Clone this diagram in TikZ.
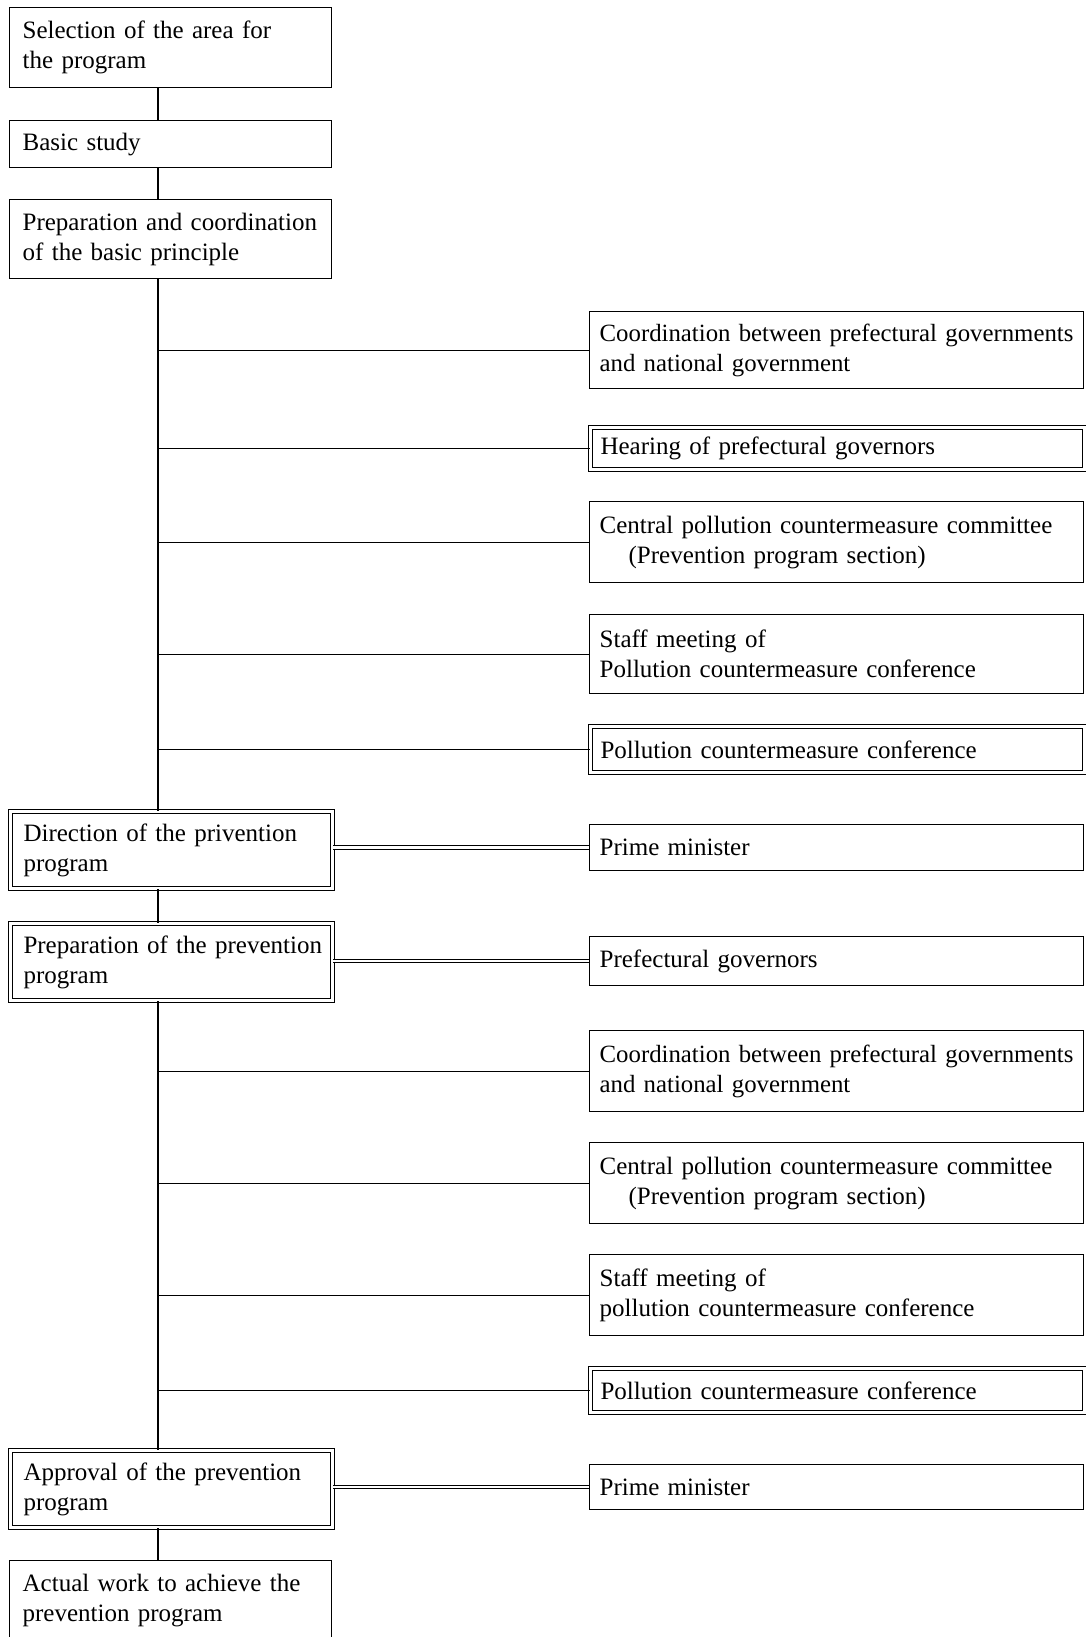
\documentclass[tikz,border=0pt]{standalone}
\usepackage{fontspec}
\setmainfont{Liberation Serif}
\hyphenpenalty=10000
\exhyphenpenalty=10000
\hbadness=10000
\hfuzz=20pt
\begin{document}
\begin{tikzpicture}[x=1pt,y=-1pt,
  lbox/.style={draw,line width=1.3pt,anchor=north west,inner xsep=13pt,inner ysep=0pt,
     minimum width=322pt,text width=296pt,align=left,
     font=\fontsize{25}{30}\selectfont},
  rbox/.style={draw,line width=1.3pt,anchor=north west,inner xsep=10pt,inner ysep=0pt,
     minimum width=494pt,text width=474pt,align=left,
     font=\fontsize{25}{30}\selectfont},
  nfont/.style={font=\fontsize{24.8}{30}\selectfont},
  dbl/.style={double,line width=1pt,double distance=2.5pt},
  conn/.style={line width=1.3pt},
  dconn/.style={double,line width=1pt,double distance=2.5pt},
  spine/.style={line width=2.2pt}]
\useasboundingbox (0,0) rectangle (1085,1637);
\coordinate (sp) at (158,0);
% left column
\node[lbox,minimum height=80pt] (sel) at (9,7) {Selection of the area for\\the program};
\node[lbox,minimum height=47pt] (basic) at (9,120) {Basic study};
\node[lbox,minimum height=79pt] (prepc) at (9,199) {Preparation and coordination\\of the basic principle};
\node[lbox,dbl,minimum height=77pt] (dir) at (10,811) {Direction of the privention\\program};
\node[lbox,dbl,minimum height=77pt] (prep) at (10,923) {\mbox{Preparation of the prevention}\\program};
\node[lbox,dbl,minimum height=77pt] (appr) at (10,1450) {Approval of the prevention\\program};
\node[lbox,minimum height=80pt] (act) at (9,1560) {Actual work to achieve the\\prevention program};
% right column
\node[rbox,nfont,minimum height=77pt] (c1) at (589,311) {\mbox{Coordination between prefectural governments}\\and national government};
\node[rbox,dbl,minimum height=42pt] (hear) at (590,427) {Hearing of prefectural governors};
\node[rbox,minimum height=81pt] (cent1) at (589,501) {Central pollution countermeasure committee\\\hspace*{29pt}(Prevention program section)};
\node[rbox,minimum height=79pt] (staff1) at (589,614) {Staff meeting of\\Pollution countermeasure conference};
\node[rbox,dbl,minimum height=46pt] (poll1) at (590,726) {Pollution countermeasure conference};
\node[rbox,minimum height=46pt] (pm1) at (589,824) {Prime minister};
\node[rbox,minimum height=49pt] (gov) at (589,936) {Prefectural governors};
\node[rbox,nfont,minimum height=81pt] (c2) at (589,1030) {\mbox{Coordination between prefectural governments}\\and national government};
\node[rbox,minimum height=81pt] (cent2) at (589,1142) {Central pollution countermeasure committee\\\hspace*{29pt}(Prevention program section)};
\node[rbox,minimum height=81pt] (staff2) at (589,1254) {Staff meeting of\\pollution countermeasure conference};
\node[rbox,dbl,minimum height=44pt] (poll2) at (590,1368) {Pollution countermeasure conference};
\node[rbox,minimum height=45pt] (pm2) at (589,1464) {Prime minister};
% spine
\draw[spine] (sel.south -| sp) -- (basic.north -| sp);
\draw[spine] (basic.south -| sp) -- (prepc.north -| sp);
\draw[spine] (prepc.south -| sp) -- (dir.north -| sp);
\draw[spine] (dir.south -| sp) -- (prep.north -| sp);
\draw[spine] (prep.south -| sp) -- (appr.north -| sp);
\draw[spine] (appr.south -| sp) -- (act.north -| sp);
% branches
\foreach \b in {c1,hear,cent1,staff1,poll1,c2,cent2,staff2,poll2}
  \draw[conn] (\b.west -| sp) -- (\b.west);
\draw[dconn] (pm1.west -| dir.east) -- (pm1.west);
\draw[dconn] (gov.west -| prep.east) -- (gov.west);
\draw[dconn] (pm2.west -| appr.east) -- (pm2.west);
\end{tikzpicture}
\end{document}
